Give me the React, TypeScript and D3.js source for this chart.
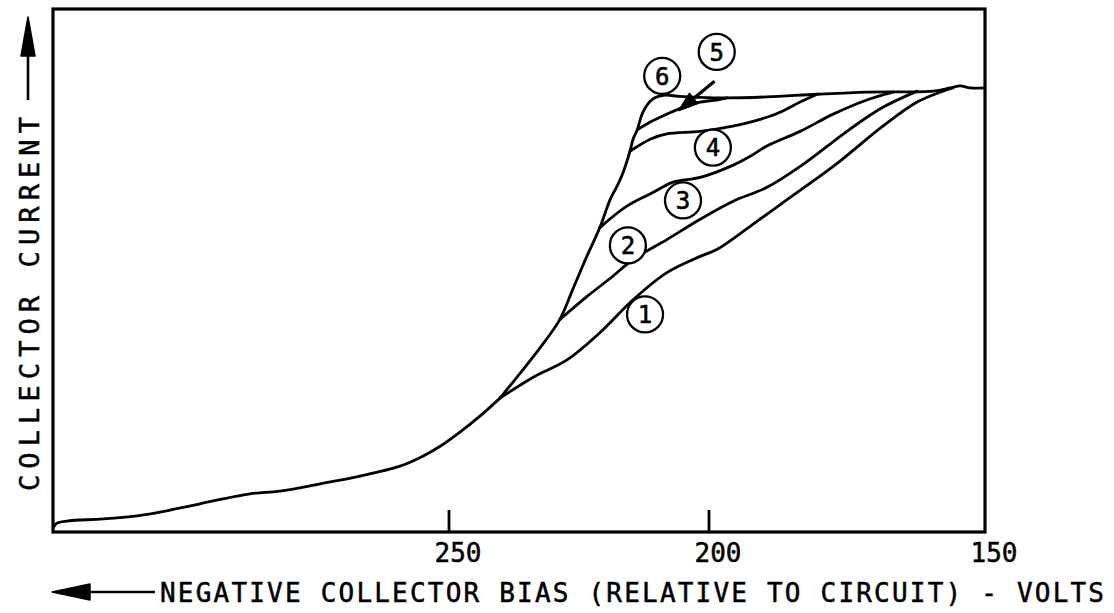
import React from "react";
import * as d3 from "d3";

// Collector bias in volts (x) and relative collector current (y, 0-100)
const baseVolts = [326.0, 325.4, 323.5, 316.5, 310.0, 305.6, 297.9, 288.3, 282.5, 274.8, 267.1, 259.4, 255.6, 251.7, 247.9, 244.0, 240.2];
const baseCurrent = [1.0, 1.7, 2.1, 2.5, 3.1, 3.8, 5.4, 7.3, 7.8, 9.2, 10.7, 12.6, 14.2, 16.4, 19.1, 22.2, 25.6];

// Curve 6: steep rise then saturation plateau
const curve6Volts = [240.2, 236.3, 232.5, 228.7, 226.2, 223.5, 221.0, 219.0, 217.7, 216.5, 215.2, 214.6, 213.8, 212.7, 210.8, 208.8, 205.6, 201.7, 196.7, 189.5, 180.4, 171.4, 159.4, 156.3, 154.5, 152.7, 150.0];
const curve6Current = [25.6, 30.4, 35.2, 40.6, 46.4, 52.7, 58.2, 63.6, 66.1, 68.8, 72.8, 75.1, 76.9, 80.3, 82.8, 83.5, 83.3, 83.1, 83.0, 83.2, 83.7, 84.1, 84.3, 84.9, 85.3, 84.9, 84.9];

const curve5Volts = [213.8, 211.3, 208.1, 205.0, 201.7, 198.6, 196.7];
const curve5Current = [76.9, 78.4, 79.9, 81.2, 82.2, 82.6, 83.0];

const curve4Volts = [215.2, 211.3, 208.1, 201.7, 195.7, 189.5, 186.6, 183.5, 180.4];
const curve4Current = [72.8, 75.1, 76.1, 76.6, 77.6, 79.3, 80.5, 82.2, 83.7];

const curve3Volts = [221.0, 215.8, 210.8, 206.9, 201.7, 195.7, 192.6, 189.5, 183.5, 177.5, 171.4, 166.7];
const curve3Current = [58.2, 62.3, 64.9, 66.9, 67.8, 70.1, 71.8, 73.8, 76.6, 79.9, 82.6, 84.1];

const curve2Volts = [228.7, 223.5, 218.5, 214.6, 208.1, 201.7, 195.7, 189.5, 183.5, 174.5, 168.5, 162.3];
const curve2Current = [40.6, 45.0, 48.9, 52.1, 55.9, 59.8, 63.2, 65.9, 69.9, 77.0, 81.2, 84.3];

const curve1Volts = [240.2, 233.8, 227.3, 221.0, 214.6, 208.1, 201.7, 198.6, 192.6, 186.6, 177.5, 168.5, 162.3, 157.6, 155.8];
const curve1Current = [25.6, 29.6, 32.9, 38.1, 44.4, 49.6, 52.7, 54.0, 58.4, 63.0, 69.9, 77.6, 82.2, 84.3, 84.9];

// Circled curve numbers
const labelText = ["1", "2", "3", "4", "5", "6"];
const labelVolts = [212.3, 215.6, 205.0, 199.3, 198.6, 209.0];
const labelCurrent = [41.6, 54.8, 63.4, 73.5, 91.8, 87.2];

// Pointer from label 5 to its curve
const pointerVolts = [199.0, 205.8];
const pointerCurrent = [86.2, 80.6];

const tickValues = [250, 200, 150];
const xTitle = "NEGATIVE COLLECTOR BIAS (RELATIVE TO CIRCUIT) - VOLTS";
const yTitle = "COLLECTOR CURRENT";

const W = 1114;
const H = 613;
const FRAME = { left: 53, right: 985, top: 9, bottom: 532 };
const FONT = "'DejaVu Sans Mono', 'Liberation Mono', monospace";

const x = d3.scaleLinear().domain([250, 200, 150]).range([449, 709, FRAME.right]);
const y = d3.scaleLinear().domain([0, 100]).range([FRAME.bottom, FRAME.top]);

const zip = (vs: number[], cs: number[]): [number, number][] => vs.map((v, i) => [v, cs[i]]);

const line = d3
  .line<[number, number]>()
  .x((d) => x(d[0]))
  .y((d) => y(d[1]))
  .curve(d3.curveCatmullRom.alpha(0.5));

const series: [number, number][][] = [
  zip(baseVolts, baseCurrent),
  zip(curve6Volts, curve6Current),
  zip(curve5Volts, curve5Current),
  zip(curve4Volts, curve4Current),
  zip(curve3Volts, curve3Current),
  zip(curve2Volts, curve2Current),
  zip(curve1Volts, curve1Current),
];

export default function App() {
  const px0 = x(pointerVolts[0]);
  const py0 = y(pointerCurrent[0]);
  const px1 = x(pointerVolts[1]);
  const py1 = y(pointerCurrent[1]);
  const ang = Math.atan2(py1 - py0, px1 - px0);
  const headLen = 19;
  const headHalf = 6.5;
  const bx = px1 - headLen * Math.cos(ang);
  const by = py1 - headLen * Math.sin(ang);
  const nx = -Math.sin(ang);
  const ny = Math.cos(ang);
  const head = `M${px1},${py1} L${bx + nx * headHalf},${by + ny * headHalf} L${bx - nx * headHalf},${by - ny * headHalf} Z`;

  return (
    <svg
      width={W}
      height={H}
      viewBox={`0 0 ${W} ${H}`}
      style={{ position: "absolute", left: 0, top: 0, background: "#fff" }}
    >
      <rect x={0} y={0} width={W} height={H} fill="#fff" />

      {/* plot frame */}
      <rect
        x={FRAME.left}
        y={FRAME.top}
        width={FRAME.right - FRAME.left}
        height={FRAME.bottom - FRAME.top}
        fill="none"
        stroke="#000"
        strokeWidth={3.2}
      />

      {/* x ticks and labels */}
      {tickValues.map((t) => (
        <g key={t}>
          {t !== 150 && (
            <line x1={x(t)} x2={x(t)} y1={FRAME.bottom} y2={FRAME.bottom - 22} stroke="#000" strokeWidth={2.8} />
          )}
          <text
            x={x(t) + 9}
            y={562}
            textAnchor="middle"
            fontFamily={FONT}
            fontSize={26}
            fill="#000"
            stroke="#000"
            strokeWidth={0.5}
          >
            {t}
          </text>
        </g>
      ))}

      {/* curves */}
      {series.map((s, i) => (
        <path key={i} d={line(s) ?? ""} fill="none" stroke="#000" strokeWidth={2.8} strokeLinejoin="round" strokeLinecap="round" />
      ))}

      {/* circled curve numbers */}
      {labelText.map((t, i) => (
        <g key={t} transform={`translate(${x(labelVolts[i])},${y(labelCurrent[i])})`}>
          <circle r={18} fill="#fff" stroke="#000" strokeWidth={2.3} />
          <text textAnchor="middle" dy="0.37em" fontFamily={FONT} fontSize={24} fill="#000" stroke="#000" strokeWidth={0.6}>
            {t}
          </text>
        </g>
      ))}

      {/* pointer for curve 5 */}
      <line x1={px0} y1={py0} x2={bx} y2={by} stroke="#000" strokeWidth={3.2} />
      <path d={head} fill="#000" stroke="#000" strokeWidth={1.5} strokeLinejoin="round" />

      {/* y axis title with arrow */}
      <text
        transform={`translate(39,491) rotate(-90)`}
        fontFamily={FONT}
        fontSize={27}
        textLength={374}
        lengthAdjust="spacing"
        fill="#000"
        stroke="#000"
        strokeWidth={0.5}
      >
        {yTitle}
      </text>
      <line x1={28} x2={28} y1={100} y2={52} stroke="#000" strokeWidth={2.6} />
      <path d="M28,17 L21,56 L35,56 Z" fill="#000" stroke="#000" strokeWidth={1.5} strokeLinejoin="round" />

      {/* x axis title with arrow */}
      <path d="M52,592 L90,584 L90,600 Z" fill="#000" stroke="#000" strokeWidth={1.5} strokeLinejoin="round" />
      <line x1={90} x2={155} y1={592} y2={592} stroke="#000" strokeWidth={2.6} />
      <text
        x={160}
        y={602}
        fontFamily={FONT}
        fontSize={26}
        textLength={944}
        lengthAdjust="spacing"
        fill="#000"
        stroke="#000"
        strokeWidth={0.5}
      >
        {xTitle}
      </text>
    </svg>
  );
}
